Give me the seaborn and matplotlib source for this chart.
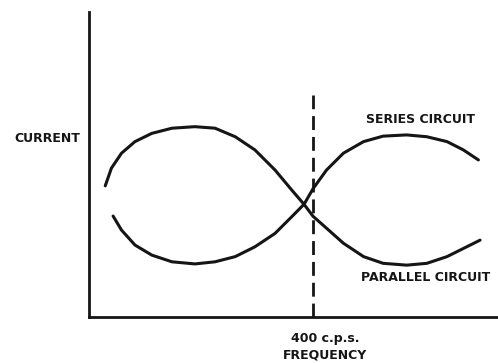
import pandas as pd
import seaborn as sns
import matplotlib.pyplot as plt

# frequency (c.p.s.) and relative current
series_freq = [43, 58, 82, 112, 148, 189, 225, 261, 296, 332, 362, 384, 400, 424, 454,
               490, 525, 567, 603, 639, 668, 695]
series_current = [3.31, 2.85, 2.36, 2.03, 1.81, 1.74, 1.81, 1.98, 2.30, 2.74, 3.29, 3.70, 4.21,
                  4.82, 5.37, 5.75, 5.93, 5.97, 5.91, 5.75, 5.48, 5.15]

parallel_freq = [29, 40, 58, 82, 112, 148, 189, 225, 261, 296, 332, 362, 384, 400, 424, 454,
                 490, 525, 567, 603, 639, 674, 698]
parallel_current = [4.30, 4.88, 5.37, 5.75, 6.02, 6.19, 6.24, 6.19, 5.91, 5.48, 4.82, 4.16, 3.69,
                    3.30, 2.91, 2.42, 1.98, 1.76, 1.70, 1.76, 1.98, 2.30, 2.52]

marker_freq = 400
marker_top = 7.28

df = pd.concat([
    pd.DataFrame({"freq": series_freq, "current": series_current, "circuit": "series"}),
    pd.DataFrame({"freq": parallel_freq, "current": parallel_current, "circuit": "parallel"}),
])

sns.set_style("white")
plt.rcParams["font.family"] = ["Liberation Sans Narrow", "DejaVu Sans"]

ink = "#151515"
fig = plt.figure(figsize=(4.98, 3.63), dpi=100)
ax = fig.add_axes([89 / 498, 46 / 363, 409 / 498, 305 / 363])

sns.lineplot(data=df, x="freq", y="current", hue="circuit", units="circuit",
             estimator=None, sort=False, palette={"series": ink, "parallel": ink},
             linewidth=2.2, legend=False, ax=ax, solid_joinstyle="round")

ax.plot([marker_freq, marker_freq], [0, marker_top], color=ink, lw=2.0,
        dashes=(5, 2.5), solid_capstyle="butt")

ax.set_xlim(0, 730)
ax.set_ylim(0, 10)
ax.set_xticks([])
ax.set_yticks([])
ax.set_xlabel("")
ax.set_ylabel("")
for side in ["top", "right"]:
    ax.spines[side].set_visible(False)
for side in ["left", "bottom"]:
    ax.spines[side].set_color(ink)
    ax.spines[side].set_linewidth(2.0)

txt = dict(color=ink, fontweight="bold", fontsize=9, ha="center", va="center", clip_on=False)
ax.text(-75, 5.84, "CURRENT", **txt)
ax.text(591, 6.46, "SERIES CIRCUIT", **txt)
ax.text(600, 1.31, "PARALLEL CIRCUIT", **txt)
ax.text(421, -0.69, "400 c.p.s.", **txt)
ax.text(421, -1.25, "FREQUENCY", **txt)

fig.savefig("out.png", dpi=100)
